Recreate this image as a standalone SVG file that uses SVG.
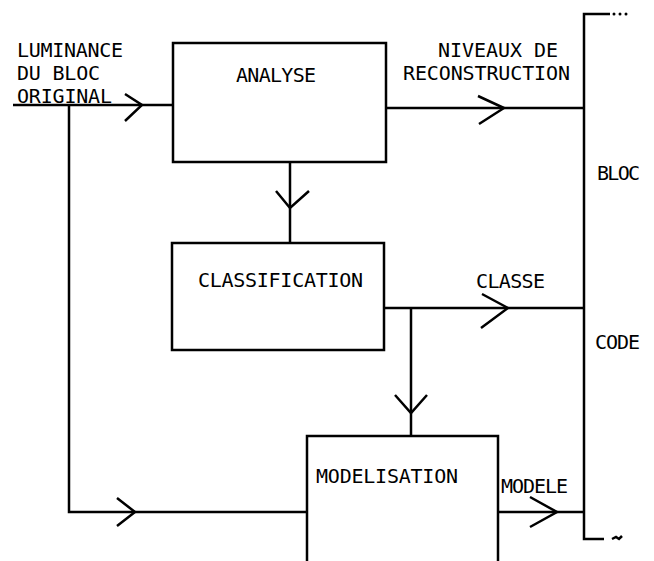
<svg xmlns="http://www.w3.org/2000/svg" width="654" height="561" viewBox="0 0 654 561">
<style>
.b{fill:#fff;stroke:#000;stroke-width:2.5}
.l{fill:none;stroke:#000;stroke-width:2.5;stroke-linejoin:miter}
.a{fill:none;stroke:#000;stroke-width:2.5}
text{font-family:"DejaVu Sans Mono","Liberation Mono",monospace;font-size:20px;fill:#000}
</style>
<rect width="654" height="561" fill="#fff"/>
<g id="connectors">
<path class="l" d="M13 105 H173"/>
<path class="a" d="M125 94 L142 105 L125 121"/>
<path class="l" d="M69 105 V512 H307"/>
<path class="a" d="M117 498 L135 512 L117 526"/>
<path class="l" d="M386 108 H584"/>
<path class="a" d="M478 96 L504 108 L479 124"/>
<path class="l" d="M290 162 V243"/>
<path class="a" d="M276 191 L290 208 L309 191"/>
<path class="l" d="M384 308 H584"/>
<path class="a" d="M482 294 L508 308 L481 328"/>
<path class="l" d="M411 308 V436"/>
<path class="a" d="M395 395 L411 413 L427 395"/>
<path class="l" d="M498 512 H584"/>
<path class="a" d="M530 497 L557 512 L530 527"/>
<path class="l" d="M610 14 H584 V539 H604"/>
<path class="a" d="M612 539 L616 537 L619 539 L622 536"/>
<g fill="#000"><circle cx="614" cy="14" r="1.5"/><circle cx="620" cy="14" r="1.5"/><circle cx="626" cy="14" r="1.5"/></g>
</g>
<g id="analyse">
<rect class="b" x="173" y="43" width="213" height="119"/>
<text x="236" y="82" textLength="80">ANALYSE</text>
</g>
<g id="classification">
<rect class="b" x="172" y="243" width="212" height="107"/>
<text x="198" y="287" textLength="165">CLASSIFICATION</text>
</g>
<g id="modelisation">
<path class="l" d="M307 575 V436 H498 V575"/>
<text x="316" y="483" textLength="142">MODELISATION</text>
</g>
<g id="labels">
<text x="17" y="57" textLength="106">LUMINANCE</text>
<text x="17" y="80" textLength="83">DU BLOC</text>
<text x="17" y="103" textLength="95">ORIGINAL</text>
<text x="438" y="57" textLength="120">NIVEAUX DE</text>
<text x="403" y="80" textLength="167">RECONSTRUCTION</text>
<text x="476" y="288" textLength="69">CLASSE</text>
<text x="501" y="493" textLength="67">MODELE</text>
<text x="597" y="180" textLength="43">BLOC</text>
<text x="595" y="349" textLength="45">CODE</text>
</g>
</svg>
